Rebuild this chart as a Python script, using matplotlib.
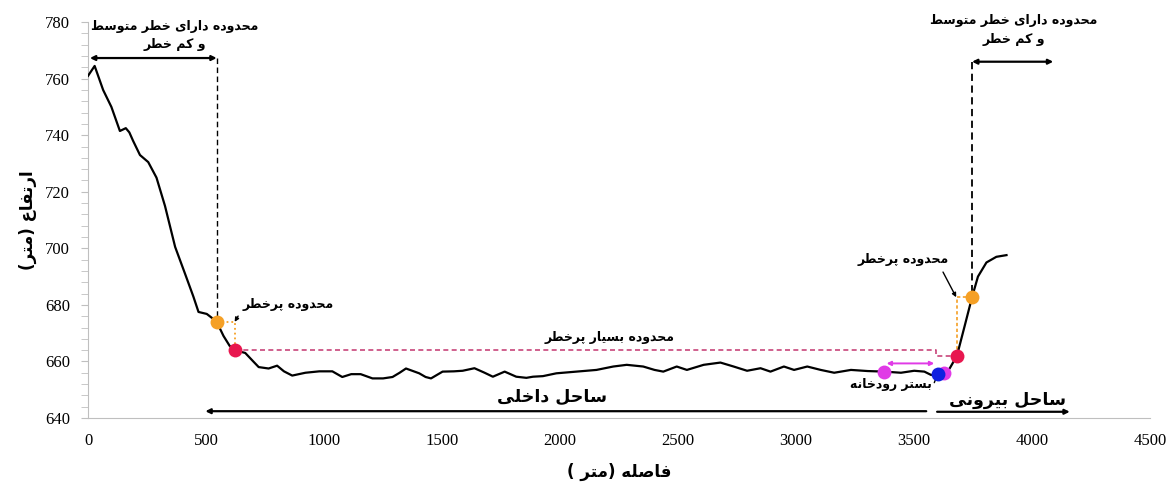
import matplotlib
matplotlib.use("Agg")
import matplotlib.pyplot as plt
from matplotlib.ticker import MultipleLocator

# Persian letters -> (isolated, final, initial, medial) presentation forms
FORMS = {
    'ا': ('\uFE8D', '\uFE8E', None, None),
    'ب': ('\uFE8F', '\uFE90', '\uFE91', '\uFE92'),
    'پ': ('\uFB56', '\uFB57', '\uFB58', '\uFB59'),
    'ت': ('\uFE95', '\uFE96', '\uFE97', '\uFE98'),
    'ح': ('\uFEA1', '\uFEA2', '\uFEA3', '\uFEA4'),
    'خ': ('\uFEA5', '\uFEA6', '\uFEA7', '\uFEA8'),
    'د': ('\uFEA9', '\uFEAA', None, None),
    'ر': ('\uFEAD', '\uFEAE', None, None),
    'س': ('\uFEB1', '\uFEB2', '\uFEB3', '\uFEB4'),
    'ص': ('\uFEB9', '\uFEBA', '\uFEBB', '\uFEBC'),
    'ط': ('\uFEC1', '\uFEC2', '\uFEC3', '\uFEC4'),
    'ع': ('\uFEC9', '\uFECA', '\uFECB', '\uFECC'),
    'ف': ('\uFED1', '\uFED2', '\uFED3', '\uFED4'),
    'ک': ('\uFB8E', '\uFB8F', '\uFB90', '\uFB91'),
    'ل': ('\uFEDD', '\uFEDE', '\uFEDF', '\uFEE0'),
    'م': ('\uFEE1', '\uFEE2', '\uFEE3', '\uFEE4'),
    'ن': ('\uFEE5', '\uFEE6', '\uFEE7', '\uFEE8'),
    'ه': ('\uFEE9', '\uFEEA', '\uFEEB', '\uFEEC'),
    'و': ('\uFEED', '\uFEEE', None, None),
    'ی': ('\uFBFC', '\uFBFD', '\uFBFE', '\uFBFF'),
}
MIRROR = {'(': ')', ')': '('}


def fa_line(text):
    out = []
    for i, ch in enumerate(text):
        if ch not in FORMS:
            out.append(MIRROR.get(ch, ch))
            continue
        iso, fin, ini, med = FORMS[ch]
        prev = text[i - 1] if i > 0 else None
        nxt = text[i + 1] if i + 1 < len(text) else None
        join_prev = prev in FORMS and FORMS[prev][2] is not None
        join_next = nxt in FORMS and ini is not None
        if join_prev and join_next:
            out.append(med)
        elif join_prev:
            out.append(fin)
        elif join_next:
            out.append(ini)
        else:
            out.append(iso)
    return ''.join(reversed(out))


def fa(text):
    return '\n'.join(fa_line(t) for t in text.split('\n'))


# elevation profile across the valley
distance = [0, 28, 64, 99, 135, 160, 175, 191, 220, 255, 290, 326, 369, 411, 446,
            468, 503, 531, 545, 574, 600, 621, 666, 700, 723, 765, 801, 830, 865,
            921, 980, 1035, 1077, 1115, 1155, 1205, 1250, 1290, 1320, 1347, 1380,
            1403, 1430, 1453, 1502, 1550, 1587, 1637, 1680, 1715, 1765, 1814, 1857,
            1885, 1927, 1984, 2069, 2154, 2225, 2282, 2352, 2400, 2437, 2494, 2537,
            2608, 2679, 2735, 2792, 2849, 2891, 2948, 2991, 3047, 3104, 3161, 3232,
            3303, 3373, 3444, 3500, 3543, 3572, 3600, 3628, 3650, 3681, 3713, 3745,
            3770, 3806, 3848, 3891]
elevation = [761, 764.5, 756, 750, 741.5, 742.5, 741, 738, 733, 730.5, 725, 715, 700.5,
             691, 683, 677.5, 676.8, 675, 674, 669, 665.5, 664, 663, 660, 658, 657.5,
             658.5, 656.5, 655, 656, 656.5, 656.5, 654.5, 655.5, 655.5, 654, 654,
             654.5, 656, 657.5, 656.5, 655.8, 654.5, 654, 656.4, 656.5, 656.7, 657.6,
             656, 654.6, 656.4, 654.6, 654.2, 654.6, 654.8, 655.8, 656.4, 657, 658.2,
             658.8, 658.2, 657, 656.4, 658.2, 657, 658.8, 659.6, 658.2, 656.7, 657.6,
             656.4, 658.2, 657, 658.2, 657, 656, 657, 656.6, 656.4, 656, 656.7, 656.4,
             655.2, 655.6, 656, 657.5, 662, 672.3, 682.7, 690, 695, 697, 697.6]

# boundary points on the profile
orange_x = [545, 3745]
orange_y = [674, 682.7]
red_x = [621, 3681]
red_y = [664, 662]
magenta_x = [3373, 3628]
magenta_y = [656.4, 656]
bed_x = [3600]
bed_y = [655.6]

ORANGE = '#f5a025'
RED = '#e8174f'
PINK = '#c8457a'
MAGENTA = '#e03ae6'
BLUE = '#1020e0'
FA_FONT = ['DejaVu Sans']

fig = plt.figure(figsize=(11.66, 4.83), dpi=100)
ax = fig.add_axes([0.0755, 0.1346, 0.911, 0.8196])

ax.plot(distance, elevation, color='black', lw=1.6, solid_joinstyle='round', zorder=3)

# dashed boundaries of the moderate/low risk zones
ax.plot([orange_x[0], orange_x[0]], [767.3, orange_y[0]], ls=(0, (4, 2.5)), color='black', lw=1, zorder=2)
ax.plot([orange_x[1], orange_x[1]], [766, orange_y[1]], ls=(0, (4, 2.5)), color='black', lw=1.3, zorder=2)
ax.annotate('', xy=(8, 767.3), xytext=(orange_x[0], 767.3),
            arrowprops=dict(arrowstyle='<|-|>', color='black', lw=1.6, mutation_scale=7,
                            shrinkA=0, shrinkB=0))
ax.annotate('', xy=(orange_x[1], 766), xytext=(4089, 766),
            arrowprops=dict(arrowstyle='<|-|>', color='black', lw=1.6, mutation_scale=7,
                            shrinkA=0, shrinkB=0))

# high risk zone (orange to red)
ax.plot([orange_x[0], red_x[0], red_x[0]], [orange_y[0], orange_y[0], red_y[0]],
        ls=':', color=ORANGE, lw=1.3, zorder=2)
ax.plot([orange_x[1], red_x[1], red_x[1]], [orange_y[1], orange_y[1], red_y[1]],
        ls=(0, (2, 1.5)), color=ORANGE, lw=1.2, zorder=2)

# very high risk zone (red dashed)
ax.plot([red_x[0], 3593, 3593, red_x[1]], [red_y[0], red_y[0], red_y[1], red_y[1]],
        ls=(0, (3, 2)), color=PINK, lw=1.2, zorder=2)

# river bed width
ax.annotate('', xy=(magenta_x[0] + 10, 659.3), xytext=(3585, 659.3),
            arrowprops=dict(arrowstyle='<|-|>', color=MAGENTA, lw=1.4, mutation_scale=6,
                            shrinkA=0, shrinkB=0))

ax.plot(orange_x, orange_y, 'o', color=ORANGE, ms=10, mec='none', zorder=4)
ax.plot(red_x, red_y, 'o', color=RED, ms=10, mec='none', zorder=4)
ax.plot(magenta_x, magenta_y, 'o', color=MAGENTA, ms=10, mec='none', zorder=4)
ax.plot(bed_x, bed_y, 'o', color=BLUE, ms=10, mec='none', zorder=5)

# inner and outer banks
ax.annotate('', xy=(497, 642.4), xytext=(3551, 642.4),
            arrowprops=dict(arrowstyle='-|>', color='black', lw=1.6, mutation_scale=7,
                            shrinkA=0, shrinkB=0))
ax.annotate('', xy=(4159, 642.2), xytext=(3597, 642.2),
            arrowprops=dict(arrowstyle='-|>', color='black', lw=1.6, mutation_scale=7,
                            shrinkA=0, shrinkB=0))

txt = dict(family=FA_FONT, fontweight='bold', ha='center', va='center', color='black')
ax.text(369, 775.3, fa('محدوده دارای خطر متوسط\nو کم خطر'), fontsize=9, linespacing=1.55, **txt)
ax.text(3922, 777.2, fa('محدوده دارای خطر متوسط\nو کم خطر'), fontsize=9, linespacing=1.55, **txt)
ax.text(2211, 668.6, fa('محدوده بسیار پرخطر'), fontsize=9, **txt)
ax.text(1964, 647.4, fa('ساحل داخلی'), fontsize=12.5, **txt)
ax.text(3895, 646.2, fa('ساحل بیرونی'), fontsize=12.5, **txt)
ax.text(3402, 651.7, fa('بستر رودخانه'), fontsize=9, **txt)

ax.annotate(fa('محدوده پرخطر'), xy=(red_x[0], orange_y[0]), xytext=(850, 680.3),
            fontsize=9, **txt,
            arrowprops=dict(arrowstyle='-|>', color='black', lw=1, mutation_scale=6,
                            shrinkA=3, shrinkB=0, relpos=(0.0, 0.2)))
ax.annotate(fa('محدوده پرخطر'), xy=(red_x[1] - 3, orange_y[1]), xytext=(3453, 696.2),
            fontsize=9, **txt,
            arrowprops=dict(arrowstyle='-|>', color='black', lw=1, mutation_scale=6,
                            shrinkA=3, shrinkB=0, relpos=(0.9, 0.0)))
ax.annotate('', xy=(bed_x[0], bed_y[0]), xytext=(3585, 652.5),
            arrowprops=dict(arrowstyle='-', color='black', lw=1, shrinkA=0, shrinkB=4))

ax.set_xlim(0, 4500)
ax.set_ylim(640, 780)
ax.xaxis.set_major_locator(MultipleLocator(500))
ax.yaxis.set_major_locator(MultipleLocator(20))
ax.yaxis.set_minor_locator(MultipleLocator(4))

for side in ['top', 'right']:
    ax.spines[side].set_visible(False)
ax.spines['left'].set_color('#bfbfbf')
ax.spines['bottom'].set_color('#bfbfbf')
ax.tick_params(axis='x', length=0, pad=11, labelsize=12)
ax.tick_params(axis='y', which='major', length=5, color='#bfbfbf', pad=8, labelsize=12)
ax.tick_params(axis='y', which='minor', length=5, color='#bfbfbf')
for lab in ax.get_xticklabels() + ax.get_yticklabels():
    lab.set_fontfamily('Liberation Serif')

ax.set_xlabel(fa('فاصله (متر )'), family=FA_FONT, fontweight='bold', fontsize=12, labelpad=10)
ax.set_ylabel(fa('ارتفاع (متر)'), family=FA_FONT, fontweight='bold', fontsize=12, labelpad=6)

fig.savefig('out.png', dpi=100)
